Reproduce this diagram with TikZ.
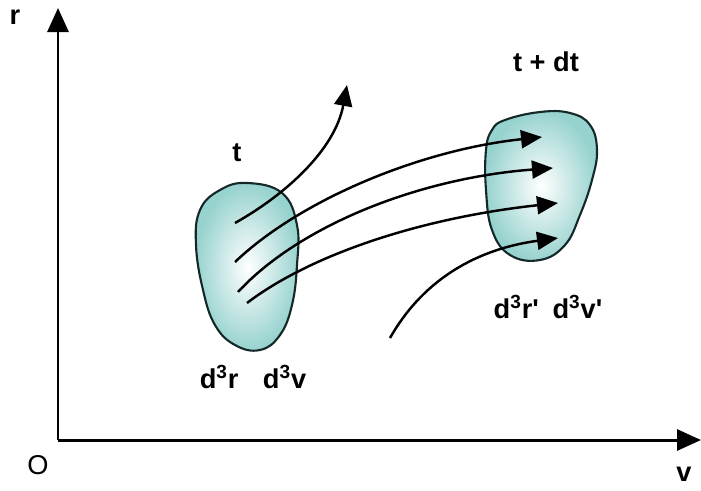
\documentclass[tikz,border=0pt]{standalone}
\usepackage{fontspec}
\setmainfont{Liberation Sans}
\usetikzlibrary{arrows.meta}
\definecolor{BlobTeal}{RGB}{150,210,206}
\definecolor{BlobLine}{RGB}{20,40,40}

\begin{document}
\begin{tikzpicture}[
    x=0.02cm, y=-0.02cm,
    axis/.style={line width=1.7pt, -{Triangle[length=0.48cm, width=0.42cm]}},
    flow/.style={line width=1.4pt, -{Triangle[length=0.42cm, width=0.36cm]}},
    blob/.style={draw=BlobLine, line width=1.2pt, inner color=white, outer color=BlobTeal},
    lbl/.style={font=\fontsize{15.5}{18}\selectfont\bfseries, inner sep=0pt}
]
    \useasboundingbox (0,0) rectangle (701,491);
    % axes
    \coordinate (origin) at (58,440);
    \coordinate (rtip) at (58,8);
    \coordinate (vtip) at (701,440);
    \draw[axis] (origin) -- (rtip);
    \draw[axis] (origin) -- (vtip);
    \node[lbl] (rlab) at (15,17) {r};
    \node[lbl] (vlab) at (684,474) {v};
    \node[font=\fontsize{15.5}{18}\selectfont, inner sep=0pt] (olab) at (38,465) {O};
    % volume elements
    \path[blob] plot[smooth cycle, tension=0.7] coordinates {
        (247,183) (282,193) (297,225) (297,265) (292,305) (280,335) (260,350)
        (235,345) (215,325) (203,290) (196,245) (200,210) (220,190)};
    \path[blob] plot[smooth cycle, tension=0.7] coordinates {
        (505,120) (540,112) (570,113) (590,125) (597,150) (592,180) (580,215)
        (565,245) (540,260) (510,255) (492,230) (486,190) (486,150) (492,130)};
    \node[lbl] (tlab) at (237,153) {t};
    \node[lbl] (tdtlab) at (546,62) {t + dt};
    \node[lbl] (dlab) at (253,377) {d\textsuperscript{3}r\hspace{0.9em}d\textsuperscript{3}v};
    \node[lbl] (dplab) at (548,307) {d\textsuperscript{3}r\textquotesingle\hspace{0.5em}d\textsuperscript{3}v\textquotesingle};
    % trajectories
    \coordinate (s0) at (235,223);
    \coordinate (s1) at (235,262);
    \coordinate (s2) at (238,292);
    \coordinate (s3) at (247,303);
    \coordinate (s4) at (390,338);
    \coordinate (e0) at (347,85);
    \coordinate (e1) at (542,137);
    \coordinate (e2) at (553,168);
    \coordinate (e3) at (558,203);
    \coordinate (e4) at (558,238);
    \draw[flow] (s0) .. controls (285,195) and (335,150) .. (e0);
    \draw[flow] (s1) .. controls (300,200) and (420,150) .. (e1);
    \draw[flow] (s2) .. controls (300,225) and (420,178) .. (e2);
    \draw[flow] (s3) .. controls (310,255) and (420,218) .. (e3);
    \draw[flow] (s4) .. controls (420,285) and (470,250) .. (e4);
\end{tikzpicture}
\end{document}
